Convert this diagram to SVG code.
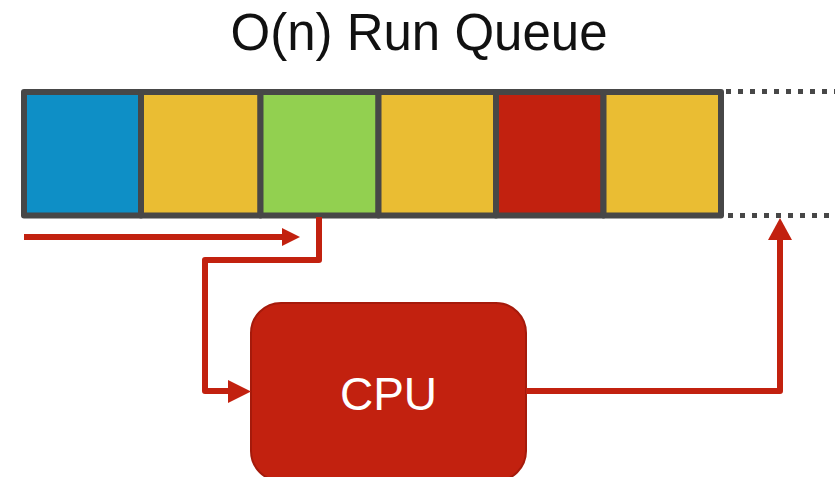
<svg xmlns="http://www.w3.org/2000/svg" width="835" height="477" viewBox="0 0 835 477">
<style>
.cell{stroke:#474747;stroke-width:6;stroke-linejoin:round}
.dot{stroke:#474747;stroke-width:5;stroke-dasharray:5 7;fill:none}
.conn{stroke:#C2210F;stroke-width:6;fill:none;stroke-linejoin:round}
.head{fill:#C2210F}
.title{font-family:"Liberation Sans",Arial,sans-serif;font-size:51px;fill:#111;font-weight:300}
.cpu{font-family:"Liberation Sans",Arial,sans-serif;font-size:46px;fill:#fff;font-weight:300}
</style>
<rect width="835" height="477" fill="#fff"/>
<g id="title"><text class="title" x="419" y="50" text-anchor="middle">O(n) Run Queue</text></g>
<g id="queue">
<rect class="cell" x="24" y="92" width="117" height="123.5" fill="#0E8FC6"/>
<rect class="cell" x="141" y="92" width="119.5" height="123.5" fill="#EABD33"/>
<rect class="cell" x="260.5" y="92" width="118" height="123.5" fill="#92D050"/>
<rect class="cell" x="378.5" y="92" width="117.5" height="123.5" fill="#EABD33"/>
<rect class="cell" x="496" y="92" width="107.5" height="123.5" fill="#C2210F"/>
<rect class="cell" x="603.5" y="92" width="117.5" height="123.5" fill="#EABD33"/>
<line class="dot" x1="726" y1="91.5" x2="835" y2="91.5"/>
<line class="dot" x1="728" y1="215.5" x2="835" y2="215.5"/>
</g>
<g id="cpu">
<rect x="251" y="303" width="275" height="178" rx="30" fill="#C2210F" stroke="#A51A0B" stroke-width="2"/>
<text class="cpu" x="388.5" y="410" text-anchor="middle">CPU</text>
</g>
<g id="connectors">
<path class="conn" d="M24 237 H284"/>
<polygon class="head" points="282,228 300,237 282,246"/>
<path class="conn" d="M319 217 V260 H205 V391 H232"/>
<polygon class="head" points="228,380 251,391.5 228,403"/>
<path class="conn" d="M526 391 H780 V236"/>
<polygon class="head" points="768,240 780,218 792,240"/>
</g>
</svg>
